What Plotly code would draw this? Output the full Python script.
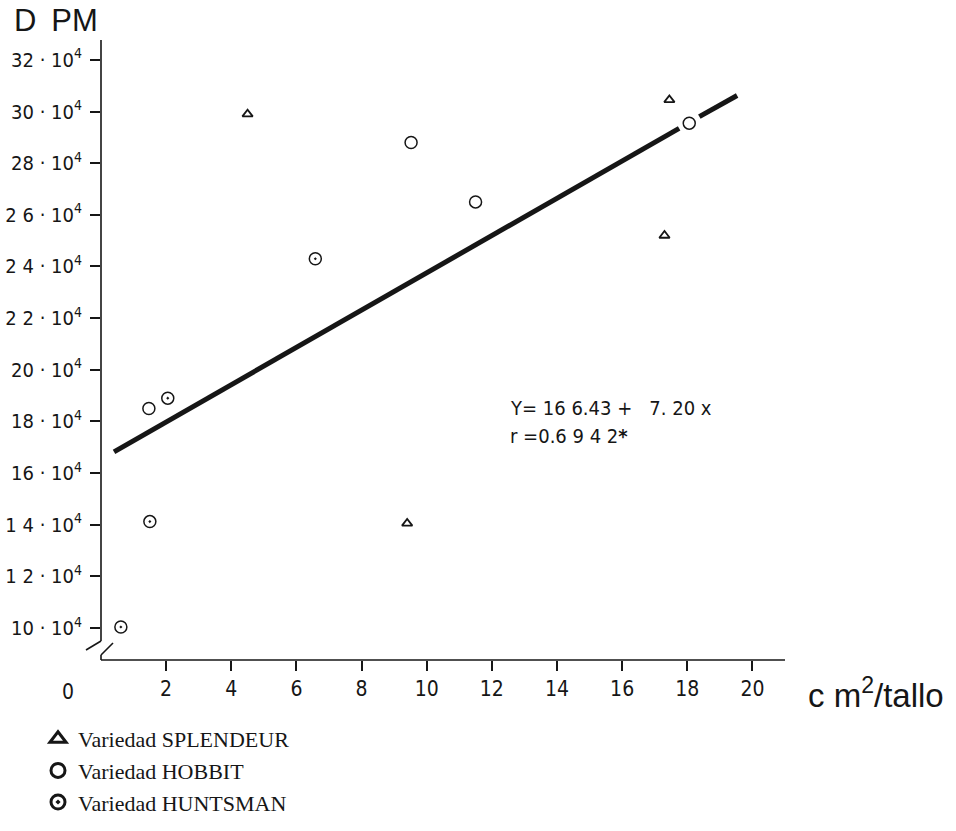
import plotly.graph_objects as go

# ---- data (x: cm2/tallo, y: DPM in units of 10^4) ----
splendeur_x = [4.5, 17.45, 17.3, 9.4]
splendeur_y = [29.9, 30.45, 25.2, 14.05]

hobbit_x = [1.47, 9.52, 11.5, 18.06]
hobbit_y = [18.5, 28.8, 26.5, 29.55]

huntsman_x = [2.05, 6.58, 1.5, 0.61]
huntsman_y = [18.9, 24.3, 14.12, 10.04]

# regression line (broken around the HOBBIT point)
reg_x = [0.40, 17.75, None, 18.37, 19.53]
reg_y = [16.82, 29.35, None, 29.8, 30.62]

x_ticks = [2, 4, 6, 8, 10, 12, 14, 16, 18, 20]
y_ticks = [10, 12, 14, 16, 18, 20, 22, 24, 26, 28, 30, 32]
y_ticktext = ["10 · 10", "1 2 · 10", "1 4 · 10", "16 · 10", "18 · 10", "20 · 10",
              "2 2 · 10", "2 4 · 10", "2 6 · 10", "28 · 10", "30 · 10", "32 · 10"]

legend_names = ["Variedad SPLENDEUR", "Variedad HOBBIT", "Variedad HUNTSMAN"]

INK = "#161616"
NARROW = "DejaVu Sans Condensed, Liberation Sans Narrow, Arial Narrow, sans-serif"

fig = go.Figure()

fig.add_trace(go.Scatter(x=reg_x, y=reg_y, mode="lines",
                         line=dict(color=INK, width=5), showlegend=False,
                         hoverinfo="skip"))

fig.add_trace(go.Scatter(x=splendeur_x, y=splendeur_y, mode="markers",
                         marker=dict(symbol="triangle-up-open", size=9,
                                     color=INK, line=dict(width=1.8, color=INK)),
                         showlegend=False))
fig.add_trace(go.Scatter(x=hobbit_x, y=hobbit_y, mode="markers",
                         marker=dict(symbol="circle-open", size=12,
                                     color=INK, line=dict(width=1.5, color=INK)),
                         showlegend=False))
fig.add_trace(go.Scatter(x=huntsman_x, y=huntsman_y, mode="markers",
                         marker=dict(symbol="circle-open-dot", size=12,
                                     color=INK, line=dict(width=1.5, color=INK)),
                         showlegend=False))

# legend entries (bolder symbols as in the printed key)
for name, sym in zip(legend_names, ["triangle-up-open", "circle-open", "circle-open-dot"]):
    fig.add_trace(go.Scatter(x=[None], y=[None], mode="markers", name=name,
                             marker=dict(symbol=sym, size=14, color=INK,
                                         line=dict(width=3, color=INK))))

L, T, B, R = 101, 40, 171, 171
W, H = 956, 831
pw, ph = W - L - R, H - T - B


def px(xp):
    return (xp - L) / pw


def py(yp):
    return (H - B - yp) / ph


line_style = dict(color=INK, width=1.6)
shapes = [
    # y axis with break
    dict(type="line", xref="paper", yref="paper", x0=0, x1=0, y0=py(641), y1=1, line=line_style),
    dict(type="line", xref="paper", yref="paper", x0=0, x1=px(86), y0=py(641), y1=py(650), line=line_style),
    # x axis with break
    dict(type="line", xref="paper", yref="paper", x0=0, x1=1, y0=0, y1=0, line=line_style),
    dict(type="line", xref="paper", yref="paper", x0=0, x1=0, y0=0, y1=py(655), line=line_style),
    dict(type="line", xref="paper", yref="paper", x0=0, x1=px(113), y0=py(655), y1=py(643), line=line_style),
]

annotations = [
    dict(text="D\u00a0\u2009PM", xref="paper", yref="paper", x=px(12), y=py(1), xanchor="left", yanchor="top",
         showarrow=False, font=dict(family="Liberation Sans, Arial, sans-serif", size=31, color=INK)),
    dict(text="c m<sup>2</sup>/tallo", xref="paper", yref="paper", x=px(806), y=py(693),
         xanchor="left", yanchor="middle", showarrow=False,
         font=dict(family="Liberation Sans, Arial, sans-serif", size=33, color=INK)),
    dict(text="0", xref="paper", yref="paper", x=px(68), y=py(692), xanchor="center", yanchor="middle",
         showarrow=False, font=dict(family=NARROW, size=21, color=INK)),
    dict(text="Y= 16 6.43 +\u00a0\u00a0 7. 20 x", xref="paper", yref="paper", x=px(508), y=py(408),
         xanchor="left", yanchor="middle", showarrow=False, font=dict(family=NARROW, size=20, color=INK)),
    dict(text="r =0.6 9 4 2<b>*</b>", xref="paper", yref="paper", x=px(508), y=py(436),
         xanchor="left", yanchor="middle", showarrow=False, font=dict(family=NARROW, size=20, color=INK)),
]

fig.update_layout(
    width=W, height=H,
    margin=dict(l=L, r=R, t=T, b=B, pad=0, autoexpand=False),
    paper_bgcolor="white", plot_bgcolor="white",
    showlegend=True,
    legend=dict(x=px(38), y=py(718), xanchor="left", yanchor="top",
                font=dict(family="Liberation Serif, Times New Roman, serif", size=22, color=INK),
                bgcolor="rgba(0,0,0,0)", tracegroupgap=0, itemsizing="trace"),
    shapes=shapes,
    annotations=annotations,
    xaxis=dict(range=[0, 21], showgrid=False, zeroline=False, showline=False,
               tickvals=x_ticks, ticktext=[str(v) for v in x_ticks],
               ticks="outside", ticklen=10, tickwidth=1.6, tickcolor=INK,
               tickfont=dict(family=NARROW, size=21, color=INK)),
    yaxis=dict(range=[8.76, 32.77], showgrid=False, zeroline=False, showline=False,
               tickvals=y_ticks, ticktext=[t + "<sup>4</sup>" for t in y_ticktext],
               ticks="outside", ticklen=10, tickwidth=1.6, tickcolor=INK,
               ticklabelstandoff=4,
               tickfont=dict(family=NARROW, size=20, color=INK)),
)

fig.write_html("out.html")
